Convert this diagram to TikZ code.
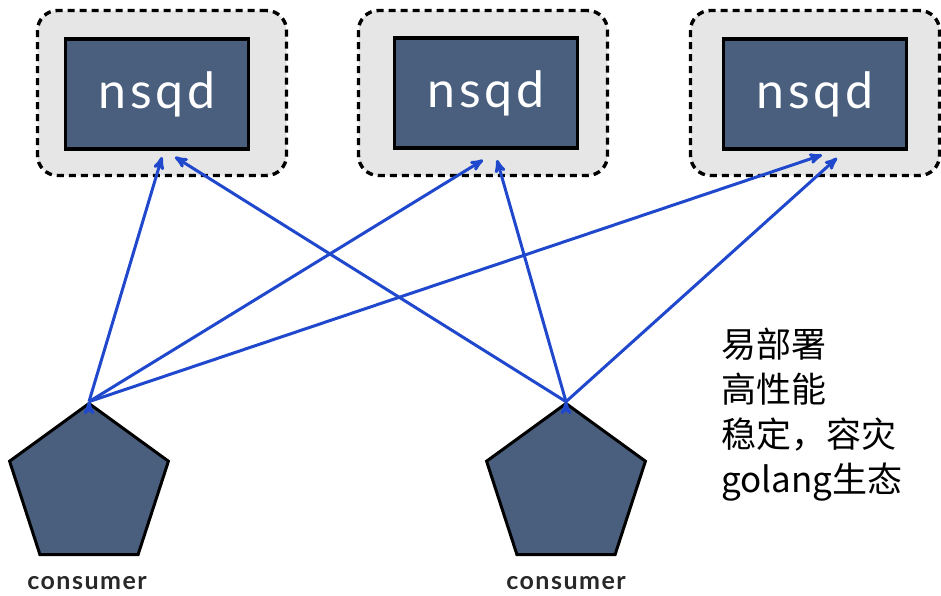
\documentclass[tikz,border=0pt]{standalone}
\usepackage{fontspec}
\usepackage{tikz}
\usetikzlibrary{shapes,arrows,positioning}
\newfontfamily\latofont[LetterSpace=7]{Lato}
\newfontfamily\tagfont[LetterSpace=6]{Lato}
\newfontfamily\cjk{Noto Sans CJK SC}
\definecolor{slate}{RGB}{74,95,126}
\definecolor{pale}{RGB}{230,230,230}
\definecolor{linkblue}{RGB}{32,72,205}
\definecolor{inkgray}{RGB}{40,40,40}

\begin{document}
\begin{tikzpicture}[->,>=stealth',x=1pt,y=-1pt,
    holder/.style={draw, rounded corners=20pt, fill=pale, line width=3.4pt,
        dash pattern=on 7pt off 5pt, minimum width=249pt, minimum height=165pt},
    daemon/.style={draw, fill=slate, line width=3.2pt, minimum width=183pt,
        minimum height=110pt, text=white, font=\latofont\fontsize{50}{52}\selectfont},
    client/.style={draw, fill=slate, regular polygon, regular polygon sides=5,
        minimum size=167pt, inner sep=0pt, line width=3pt},
    tag/.style={text=inkgray, font=\tagfont\bfseries\fontsize{25}{27}\selectfont},
    link/.style={draw=linkblue, line width=3pt}]
        \useasboundingbox (0,0) rectangle (941,595);
        \node[holder] (box1) at (162,93) {};
        \node[holder] (box2) at (483,93) {};
        \node[holder] (box3) at (815,93) {};
        \node[daemon] (nsqd1) at (157,94) {nsqd};
        \node[daemon] (nsqd2) at (486,93) {nsqd};
        \node[daemon] (nsqd3) at (815,94) {nsqd};
        \node[client] (con1) at (89,487) {};
        \node[client] (con2) at (566,487) {};
        \node[tag] (tag1) at (87,583) {consumer};
        \node[tag] (tag2) at (566,583) {consumer};
        \node[anchor=north west, align=left, inner sep=0pt,
            font=\cjk\fontsize{35}{45}\selectfont] (notes) at (721,328)
            {易部署\\高性能\\稳定，容灾\\golang生态};
        \coordinate (in1a) at (162,157);
        \coordinate (in1b) at (175,157);
        \coordinate (in2a) at (483,160);
        \coordinate (in2b) at (497,160);
        \coordinate (in3a) at (822,155);
        \coordinate (in3b) at (837,158);
        \path[link] (con1.corner 1) edge (in1a) edge (in2a) edge (in3a);
        \path[link] (con2.corner 1) edge (in1b) edge (in2b) edge (in3b);
    \end{tikzpicture}
\end{document}
